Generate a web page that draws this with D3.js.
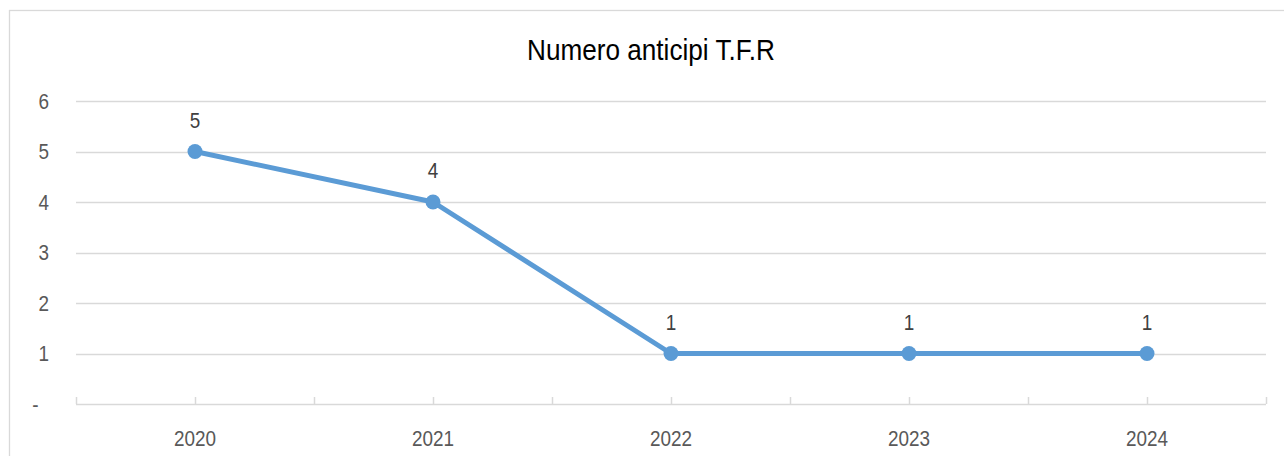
<!DOCTYPE html>
<html>
<head>
<meta charset="utf-8">
<script src="https://cdn.jsdelivr.net/npm/d3@7"></script>
<style>
  body { margin: 0; background: #fff; }
  svg { display: block; }
</style>
</head>
<body>
<div id="holder"></div>
<script>
const w = 1284;
const h = 456;

// DATA
const title = "Numero anticipi T.F.R";
const years = ["2020", "2021", "2022", "2023", "2024"];
const values = [5, 4, 1, 1, 1];
const yTicks = [0, 1, 2, 3, 4, 5, 6];

const plotLeft = 76, plotRight = 1266, plotTop = 101, plotBottom = 404;
// no narrow font installed, so squeeze Liberation Sans horizontally
const font = "'Liberation Sans Narrow', 'Arial Narrow', 'Liberation Sans', Arial, sans-serif";
const squeeze = "scale(0.86,1)";
const grey = "#d9d9d9";
const textCol = "#595959";
const blue = "#5b9bd5";

// CREATE SVG
const svg = d3.select("#holder")
    .append("svg")
    .attr("width", w)
    .attr("height", h)

// chart border
svg.append("rect")
    .attr("x", 9.5)
    .attr("y", 10.5)
    .attr("width", 1290)
    .attr("height", 460)
    .attr("fill", "white")
    .attr("stroke", grey)
    .attr("stroke-width", 1.3)

// TITLE
svg.append("text")
    .attr("x", 651)
    .attr("y", 60)
    .attr("text-anchor", "middle")
    .attr("font-family", font)
    .attr("font-size", 30)
    .attr("textLength", 248)
    .attr("lengthAdjust", "spacingAndGlyphs")
    .attr("fill", "#000")
    .text(title)

// SCALES
let xScale = d3.scaleBand()
    .domain(years)
    .range([plotLeft, plotRight])

let yScale = d3.scaleLinear()
    .domain([0, 6])
    .range([plotBottom, plotTop])

// GRIDLINES
svg.append("g")
    .selectAll("line")
    .data(yTicks.filter(d => d > 0))
    .enter()
    .append("line")
    .attr("x1", plotLeft)
    .attr("x2", plotRight)
    .attr("y1", d => Math.round(yScale(d)) + 0.5)
    .attr("y2", d => Math.round(yScale(d)) + 0.5)
    .attr("stroke", grey)
    .attr("stroke-width", 1.5)

// Y LABELS
let yAxis = d3.axisLeft(yScale)
    .tickValues(yTicks)
    .tickSize(0)
    .tickPadding(0)
    .tickFormat(d => d === 0 ? "-\u00a0\u00a0" : d)

let yG = svg.append("g")
    .attr("transform", "translate(49,0)")
    .call(yAxis)
yG.select(".domain").remove()
yG.selectAll("text")
    .attr("x", 0)
    .attr("transform", squeeze)
    .attr("font-family", font)
    .attr("font-size", 22)
    .attr("fill", textCol)

// X AXIS
svg.append("line")
    .attr("x1", plotLeft)
    .attr("x2", plotRight)
    .attr("y1", plotBottom + 0.5)
    .attr("y2", plotBottom + 0.5)
    .attr("stroke", grey)
    .attr("stroke-width", 1.5)

let tickPos = [];
years.forEach(y => {
    tickPos.push(xScale(y));
    tickPos.push(xScale(y) + xScale.bandwidth() / 2);
});
tickPos.push(xScale.range()[1]);

svg.append("g")
    .selectAll("line")
    .data(tickPos)
    .enter()
    .append("line")
    .attr("x1", d => Math.round(d) + 0.5)
    .attr("x2", d => Math.round(d) + 0.5)
    .attr("y1", plotBottom - 7)
    .attr("y2", plotBottom)
    .attr("stroke", grey)
    .attr("stroke-width", 1.5)

let xAxis = d3.axisBottom(xScale)
    .tickSize(0)
    .tickPadding(0)

let xG = svg.append("g")
    .attr("transform", "translate(0," + (plotBottom + 26) + ")")
    .call(xAxis)
xG.select(".domain").remove()
xG.selectAll("text")
    .attr("dy", "0.71em")
    .attr("transform", squeeze)
    .attr("font-family", font)
    .attr("font-size", 22)
    .attr("fill", textCol)

// LINE
const cx = (d, i) => xScale(years[i]) + xScale.bandwidth() / 2;
let line = d3.line()
    .x(cx)
    .y(d => yScale(d))

svg.append("path")
    .datum(values)
    .attr("d", line)
    .attr("fill", "none")
    .attr("stroke", blue)
    .attr("stroke-width", 5)
    .attr("stroke-linejoin", "round")

svg.selectAll("circle.pt")
    .data(values)
    .enter()
    .append("circle")
    .attr("class", "pt")
    .attr("cx", cx)
    .attr("cy", d => yScale(d))
    .attr("r", 7.5)
    .attr("fill", blue)

// DATA LABELS
let lbl = svg.selectAll("g.lbl")
    .data(values)
    .enter()
    .append("g")
    .attr("class", "lbl")
    .attr("transform", (d, i) => "translate(" + cx(d, i) + "," + (yScale(d) - 24) + ")")

lbl.append("text")
    .attr("transform", squeeze)
    .attr("text-anchor", "middle")
    .attr("font-family", font)
    .attr("font-size", 22)
    .attr("fill", "#404040")
    .text(d => d)
</script>
</body>
</html>
